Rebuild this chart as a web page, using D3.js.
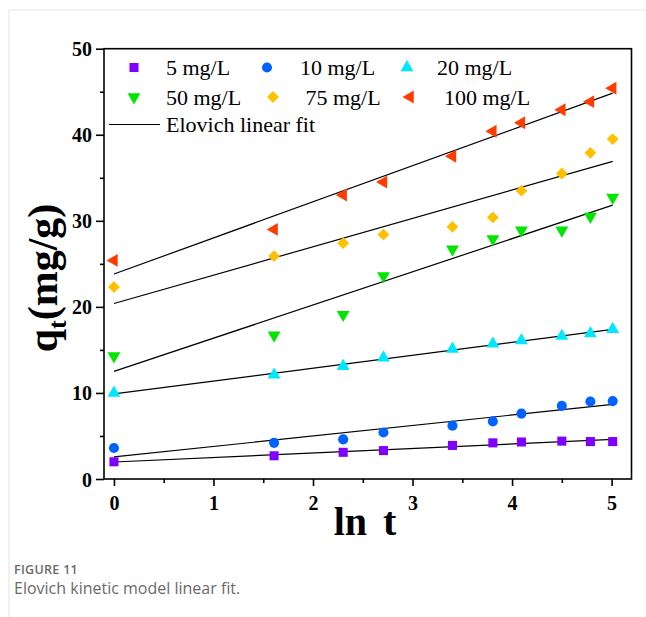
<!DOCTYPE html>
<html>
<head>
<meta charset="utf-8">
<script src="https://cdn.jsdelivr.net/npm/d3@7"></script>
<style>
  body { margin: 0; background: #fff; }
  svg { display: block; }
</style>
</head>
<body>
<svg id="chart" width="646" height="617"></svg>
<script>
// ln t for t = 1, 5, 10, 15, 30, 45, 60, 90, 120, 150 min
const lnT = [0, 1.609, 2.303, 2.708, 3.401, 3.807, 4.094, 4.500, 4.787, 5.011];

const q5   = [2.0, 2.7, 3.1, 3.3, 3.9, 4.2, 4.3, 4.4, 4.35, 4.35];
const q10  = [3.6, 4.2, 4.6, 5.4, 6.2, 6.7, 7.6, 8.5, 9.0, 9.05];
const q20  = [10.0, 12.1, 13.1, 14.1, 15.1, 15.7, 16.1, 16.6, 16.9, 17.4];
const q50  = [14.3, 16.7, 19.1, 23.6, 26.7, 27.9, 28.9, 28.9, 30.5, 32.7];
const q75  = [22.3, 25.9, 27.4, 28.4, 29.3, 30.4, 33.5, 35.5, 37.9, 39.5];
const q100 = [25.4, 29.0, 33.0, 34.5, 37.5, 40.4, 41.4, 42.9, 43.85, 45.4];

const seriesNames = ['5 mg/L', '10 mg/L', '20 mg/L', '50 mg/L', ' 75 mg/L', '100 mg/L'];
const seriesValues = [q5, q10, q20, q50, q75, q100];
const colors = ['#7f00ff', '#0062ff', '#00e8ff', '#00e600', '#ffc000', '#ff3c00'];

const xTicks = [0, 1, 2, 3, 4, 5];
const yTicks = [0, 10, 20, 30, 40, 50];

const svg = d3.select('#chart');

// light page frame
svg.append('line').attr('x1', 9).attr('x2', 646).attr('y1', 10).attr('y2', 10)
  .attr('stroke', '#e6e6e6').attr('stroke-width', 1);
svg.append('line').attr('x1', 9).attr('x2', 9).attr('y1', 10).attr('y2', 617)
  .attr('stroke', '#e2e2e2').attr('stroke-width', 1);

const plotLeft = 104, plotRight = 631.5, plotTop = 48.7, plotBottom = 479;

const x = d3.scaleLinear().domain([-0.1, 5.2]).range([plotLeft, plotRight]);
const y = d3.scaleLinear().domain([0, 50]).range([plotBottom, plotTop]);

// plot box
svg.append('rect')
  .attr('x', plotLeft).attr('y', plotTop)
  .attr('width', plotRight - plotLeft).attr('height', plotBottom - plotTop)
  .attr('fill', 'none').attr('stroke', '#000').attr('stroke-width', 1.6);

// axes
const xAxis = svg.append('g').attr('transform', 'translate(0,' + plotBottom + ')')
  .call(d3.axisBottom(x).tickValues(xTicks).tickSize(7).tickPadding(6).tickFormat(d3.format('d')));
const xMinor = svg.append('g').attr('transform', 'translate(0,' + plotBottom + ')')
  .call(d3.axisBottom(x).tickValues(d3.range(0.5, 5, 1)).tickSize(4).tickFormat(''));
const yAxis = svg.append('g').attr('transform', 'translate(' + plotLeft + ',0)')
  .call(d3.axisLeft(y).tickValues(yTicks).tickSize(8).tickPadding(4));
const yMinor = svg.append('g').attr('transform', 'translate(' + plotLeft + ',0)')
  .call(d3.axisLeft(y).tickValues(d3.range(5, 50, 10)).tickSize(4).tickFormat(''));

[xAxis, xMinor, yAxis, yMinor].forEach(function(g) {
  g.select('.domain').remove();
  g.selectAll('line').attr('stroke', '#000').attr('stroke-width', 1.6);
  g.selectAll('text')
    .attr('fill', '#000')
    .style('font-family', '"Liberation Serif", "Times New Roman", serif')
    .style('font-weight', 'bold')
    .style('font-size', '20px');
});
xAxis.selectAll('text').attr('dy', '0.9em');
yAxis.selectAll('text').attr('dy', '0.35em');

// symbols
const tri = d3.symbol().type(d3.symbolTriangle).size(72)();
const symbols = [
  { path: d3.symbol().type(d3.symbolSquare).size(82)(), rot: 0 },
  { path: d3.symbol().type(d3.symbolCircle).size(80)(), rot: 0 },
  { path: tri, rot: 0 },
  { path: tri, rot: 180 },
  { path: d3.symbol().type(d3.symbolSquare).size(70)(), rot: 45 },
  { path: tri, rot: -90 }
];

// least squares fit lines
function fit(xs, ys) {
  const mx = d3.mean(xs), my = d3.mean(ys);
  let sxy = 0, sxx = 0;
  xs.forEach(function(v, i) {
    sxy += (v - mx) * (ys[i] - my);
    sxx += (v - mx) * (v - mx);
  });
  const b = sxy / sxx;
  return { a: my - b * mx, b: b };
}

const lineGen = d3.line().x(function(d) { return x(d[0]); }).y(function(d) { return y(d[1]); });

seriesValues.forEach(function(vals, i) {
  const f = fit(lnT, vals);
  const x0 = lnT[0], x1 = lnT[lnT.length - 1];
  svg.append('path')
    .attr('d', lineGen([[x0, f.a + f.b * x0], [x1, f.a + f.b * x1]]))
    .attr('fill', 'none').attr('stroke', '#000').attr('stroke-width', 1.2);
});

seriesValues.forEach(function(vals, i) {
  svg.append('g').selectAll('path')
    .data(vals)
    .enter()
    .append('path')
    .attr('d', symbols[i].path)
    .attr('transform', function(d, j) {
      return 'translate(' + x(lnT[j]) + ',' + y(d) + ') rotate(' + symbols[i].rot + ')';
    })
    .attr('fill', colors[i]);
});

// legend
const legendFont = '"Liberation Serif", "Times New Roman", serif';
const legendPos = [
  { sx: 134, sy: 67.5, tx: 166 },
  { sx: 267, sy: 67.5, tx: 300 },
  { sx: 407, sy: 67.5, tx: 437 },
  { sx: 134, sy: 97, tx: 166 },
  { sx: 273, sy: 97, tx: 300 },
  { sx: 410, sy: 97, tx: 444 }
];
seriesNames.forEach(function(name, i) {
  const p = legendPos[i];
  svg.append('path')
    .attr('d', symbols[i].path)
    .attr('transform', 'translate(' + p.sx + ',' + p.sy + ') rotate(' + symbols[i].rot + ')')
    .attr('fill', colors[i]);
  svg.append('text')
    .attr('x', p.tx).attr('y', p.sy + 7.5)
    .style('font-family', legendFont).style('font-size', '22px')
    .style('white-space', 'pre')
    .attr('fill', '#000')
    .text(name);
});
svg.append('line').attr('x1', 109).attr('x2', 160).attr('y1', 124.5).attr('y2', 124.5)
  .attr('stroke', '#000').attr('stroke-width', 1.2);
svg.append('text')
  .attr('x', 166).attr('y', 132)
  .style('font-family', legendFont).style('font-size', '22px')
  .attr('fill', '#000')
  .text('Elovich linear fit');

// axis titles
svg.append('text')
  .attr('x', 365).attr('y', 535)
  .attr('text-anchor', 'middle')
  .style('font-family', legendFont).style('font-weight', 'bold').style('font-size', '40px')
  .style('word-spacing', '6px')
  .attr('fill', '#000')
  .text('ln t');

const yTitle = svg.append('text')
  .attr('transform', 'translate(57,278) rotate(-90)')
  .attr('text-anchor', 'middle')
  .style('font-family', legendFont).style('font-weight', 'bold').style('font-size', '42px')
  .attr('fill', '#000');
yTitle.append('tspan').text('q');
yTitle.append('tspan').attr('dy', 9).style('font-size', '26px').text('t');
yTitle.append('tspan').attr('dy', -9).text('(mg/g)');

// caption
svg.append('text')
  .attr('x', 14).attr('y', 574)
  .style('font-family', '"Open Sans", sans-serif').style('font-size', '12.5px')
  .style('font-weight', '600').style('letter-spacing', '0.3px')
  .attr('fill', '#6a6a6a')
  .text('FIGURE 11');
svg.append('text')
  .attr('x', 14).attr('y', 594)
  .style('font-family', '"Open Sans", sans-serif').style('font-size', '16px')
  .attr('fill', '#6a6a6a')
  .text('Elovich kinetic model linear fit.');
</script>
</body>
</html>
